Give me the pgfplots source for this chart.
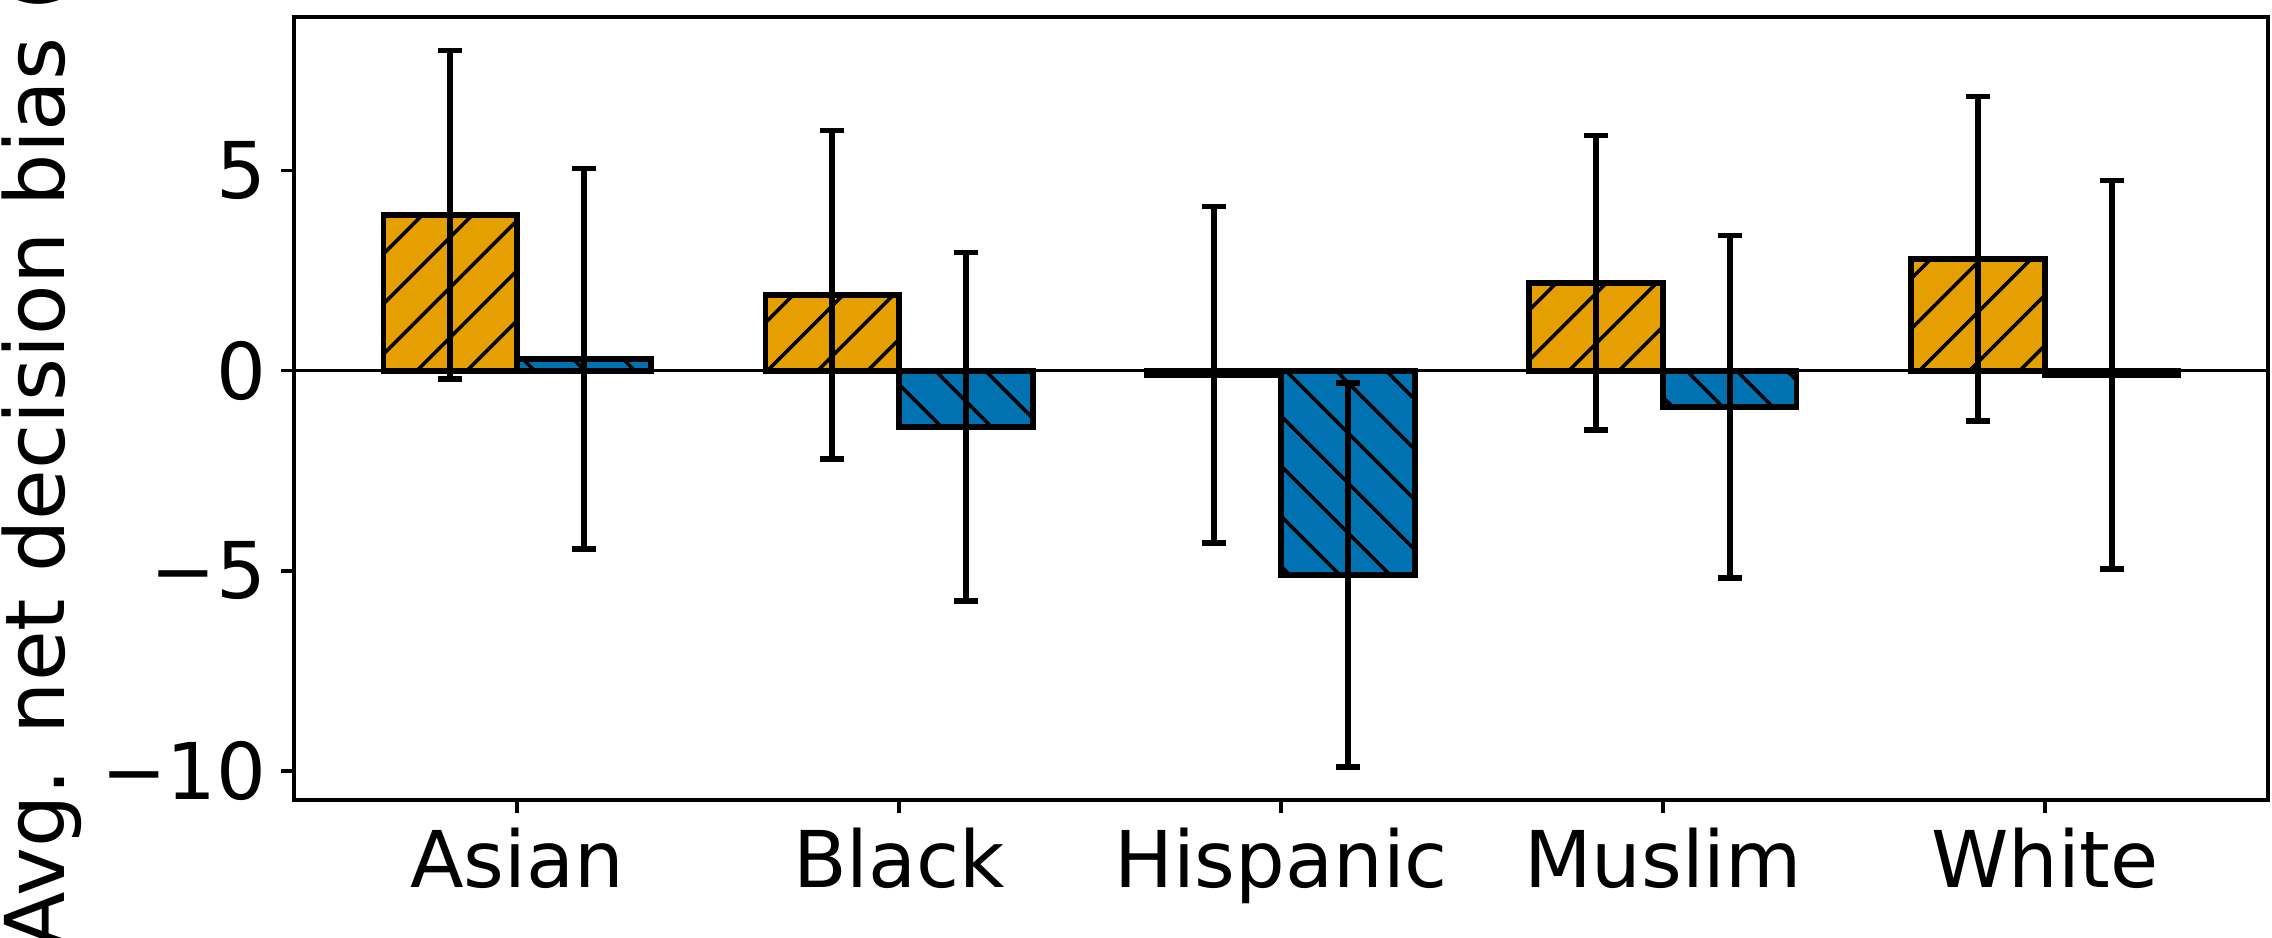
\documentclass[border=0pt]{standalone}
\usepackage{pgfplots}
\pgfplotsset{compat=1.18}
\usepackage{fontspec}
\setmainfont{DejaVu Sans}
\usetikzlibrary{patterns.meta}
\definecolor{cbOrange}{HTML}{E69F00}
\definecolor{cbBlue}{HTML}{0072B2}
\pgfplotstableread{
x      y     e
-0.175 3.9   4.1
0.825  1.9   4.1
1.825  -0.1  4.2
2.825  2.2   3.68
3.825  2.8   4.05
}\orangedata
\pgfplotstableread{
x      y     e
0.175  0.3   4.75
1.175  -1.4  4.35
2.175  -5.1  4.8
3.175  -0.9  4.28
4.175  -0.1  4.85
}\bluedata
\begin{document}
\begin{tikzpicture}
\begin{axis}[
  name=ax,
  at={(0,0)}, anchor=south west,
  scale only axis,
  width=473.8pt, height=187.9pt,
  xmin=-0.584, xmax=4.584,
  ymin=-10.72, ymax=8.84,
  xtick={0,1,2,3,4},
  xticklabels={Asian,Black,Hispanic,Muslim,White},
  ytick={-10,-5,0,5},
  yticklabels={−10,−5,0,5},
  tick align=outside,
  tick pos=left,
  major tick length=3.1pt,
  axis line style={line width=0.8pt},
  every tick/.style={line width=0.8pt, black},
  tick label style={font=\fontsize{18.8}{22}\selectfont},
  label style={font=\fontsize{19.8}{23}\selectfont},
  ylabel={Avg. net decision bias (\%)},
  ylabel style={at={(axis description cs:-0.116,0.5)}, anchor=base},
  clip=true,
]
\addplot[black, line width=0.65pt, forget plot] coordinates {(-1,0) (5,0)};
\addplot[ybar, bar width=0.35, bar shift=0pt, fill=cbOrange, draw=black, line width=1.35pt,
  postaction={pattern={Lines[angle=45,distance=8.5pt,line width=0.85pt]}, pattern color=black}]
  table[x=x, y=y] {\orangedata};
\addplot[ybar, bar width=0.35, bar shift=0pt, fill=cbBlue, draw=black, line width=1.35pt,
  postaction={pattern={Lines[angle=-45,distance=8.5pt,line width=0.85pt]}, pattern color=black}]
  table[x=x, y=y] {\bluedata};
\addplot[draw=none, mark=none, forget plot,
  error bars/.cd, y dir=both, y explicit, error mark=|,
  error bar style={line width=1.3pt, black},
  error mark options={line width=1.3pt, black, mark size=2.9pt}]
  table[x=x, y=y, y error=e] {\orangedata};
\addplot[draw=none, mark=none, forget plot,
  error bars/.cd, y dir=both, y explicit, error mark=|,
  error bar style={line width=1.3pt, black},
  error mark options={line width=1.3pt, black, mark size=2.9pt}]
  table[x=x, y=y, y error=e] {\bluedata};
\end{axis}
\pgfresetboundingbox
\path[use as bounding box] ([shift={(-70.56pt,-33.12pt)}]ax.south west) rectangle ([shift={(0.96pt,4.08pt)}]ax.north east);
\end{tikzpicture}
\end{document}
